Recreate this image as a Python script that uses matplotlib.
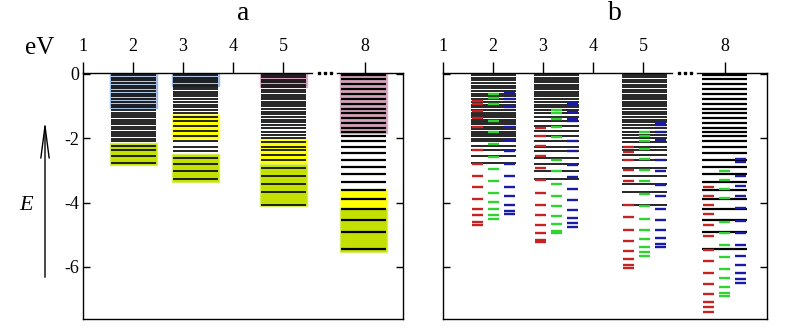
import matplotlib
matplotlib.use("Agg")
import matplotlib.pyplot as plt
from matplotlib.patches import Rectangle, FancyArrowPatch
from matplotlib.transforms import IdentityTransform

plt.rcParams['font.family'] = ['Liberation Serif', 'DejaVu Serif']
plt.rcParams['axes.unicode_minus'] = False

# cluster sizes shown as columns
sizes = [2, 3, 5, 8]
tick_labels = ['1', '2', '3', '4', '5', '8']

# energy levels (eV) of each cluster, panel a and black lines of panel b
levels_2 = [-0.03, -0.11, -0.20, -0.28, -0.36, -0.44, -0.54, -0.62, -0.70, -0.79,
            -0.88, -0.96, -1.04, -1.12, -1.20, -1.27, -1.34, -1.43, -1.50, -1.57,
            -1.65, -1.72, -1.79, -1.86, -1.93, -2.01, -2.09, -2.24, -2.38, -2.55, -2.76]
levels_3 = [-0.03, -0.11, -0.20, -0.26, -0.33, -0.40, -0.47, -0.55, -0.62, -0.70,
            -0.79, -0.87, -0.95, -1.04, -1.12, -1.20, -1.33, -1.46, -1.61, -1.76,
            -1.92, -2.10, -2.26, -2.41, -2.62, -2.80, -3.01, -3.27]
levels_5 = [-0.03, -0.10, -0.19, -0.26, -0.33, -0.41, -0.50, -0.57, -0.64, -0.71,
            -0.79, -0.86, -0.93, -1.00, -1.09, -1.17, -1.25, -1.34, -1.42, -1.50,
            -1.59, -1.69, -1.79, -1.89, -2.00, -2.13, -2.26, -2.38, -2.52, -2.67,
            -2.91, -3.16, -3.42, -3.68, -4.07]
levels_8 = [-0.03, -0.16, -0.31, -0.47, -0.61, -0.77, -0.92, -1.08, -1.22, -1.38,
            -1.53, -1.68, -1.80, -1.93, -2.09, -2.27, -2.45, -2.66, -2.88, -3.11,
            -3.35, -3.60, -3.88, -4.20, -4.53, -4.93, -5.43]

# highlighted bands in panel a: (kind, top, bottom)
bands_2 = [('blue', 0.02, -1.05), ('green', -2.15, -2.84)]
bands_3 = [('blue', 0.02, -0.37), ('yellow', -1.25, -2.02), ('green', -2.49, -3.36)]
bands_5 = [('pink', 0.02, -0.39), ('yellow', -2.03, -2.80), ('green', -2.80, -4.10)]
bands_8 = [('pink', 0.02, -1.84), ('yellow', -3.58, -4.17), ('green', -4.17, -5.55)]

# panel b: projected levels (eV)
red_2 = [-0.83, -0.92, -1.14, -1.38, -1.64, -2.38, -2.79, -3.16, -3.52, -3.88, -4.19, -4.40, -4.59, -4.71]
green_2 = [-0.63, -0.74, -0.93, -1.46, -1.82, -2.19, -2.57, -2.97, -3.34, -3.69, -3.97, -4.20, -4.40, -4.52]
blue_2 = [-0.58, -0.77, -1.02, -1.64, -2.05, -2.41, -2.79, -3.17, -3.50, -3.81, -4.06, -4.25, -4.34]

red_3 = [-1.68, -1.92, -2.24, -2.55, -2.91, -3.31, -3.69, -4.06, -4.40, -4.71, -4.96, -5.15, -5.24]
green_3 = [-1.12, -1.20, -1.39, -1.64, -1.95, -2.67, -3.03, -3.42, -3.78, -4.12, -4.43, -4.68, -4.88, -4.96]
blue_3 = [-0.89, -0.96, -1.19, -1.41, -1.47, -2.08, -2.41, -2.83, -3.19, -3.57, -3.91, -4.22, -4.47, -4.65, -4.75]

red_5 = [-2.26, -2.44, -2.69, -3.00, -3.34, -4.09, -4.46, -4.84, -5.18, -5.49, -5.74, -5.93, -6.02]
green_5 = [-1.79, -1.92, -2.07, -2.32, -2.63, -2.98, -3.34, -3.73, -4.12, -4.50, -4.84, -5.12, -5.37, -5.55, -5.67]
blue_5 = [-1.51, -1.58, -1.79, -2.05, -2.69, -3.03, -3.45, -3.81, -4.19, -4.53, -4.84, -5.09, -5.28, -5.37]

red_8 = [-3.50, -3.81, -4.06, -4.34, -4.69, -5.05, -5.47, -5.83, -6.20, -6.54, -6.85, -7.10, -7.26, -7.39]
green_8 = [-3.03, -3.31, -3.57, -3.87, -4.60, -4.96, -5.33, -5.70, -6.05, -6.36, -6.61, -6.80, -6.90]
blue_8 = [-2.65, -2.75, -3.16, -3.47, -3.81, -4.18, -4.56, -4.96, -5.33, -5.67, -5.95, -6.20, -6.39, -6.51]

levels = [levels_2, levels_3, levels_5, levels_8]
bands = [bands_2, bands_3, bands_5, bands_8]
reds = [red_2, red_3, red_5, red_8]
greens = [green_2, green_3, green_5, green_8]
blues = [blue_2, blue_3, blue_5, blue_8]

# layout / style
band_colors = {'blue': '#b0c6e6', 'yellow': '#ffff00', 'green': '#c4e000', 'pink': '#d6a3bc'}
band_edges = {'blue': '#9bbbe2', 'yellow': '#ffff70', 'green': '#d4ea60', 'pink': '#d9afc4'}
tick_pos = [1, 2, 3, 4, 5, 6.64]
centers_a = [2.0, 3.25, 5.0, 6.61]
centers_b = [2.0, 3.27, 5.02, 6.63]
line_w = [1.2, 1.2, 1.2, 1.6]
half = 0.45
ymin, ymax = -7.62, 0.03

fig = plt.figure(figsize=(7.94, 3.32), dpi=100)
ax_a = fig.add_axes([83 / 794, 13 / 332, 320 / 794, 246 / 332])
ax_b = fig.add_axes([443 / 794, 13 / 332, 324 / 794, 246 / 332])


def style_axes(ax, xmax, show_labels):
    ax.set_xlim(1, xmax)
    ax.set_ylim(ymin, ymax)
    ax.xaxis.set_ticks_position('top')
    ax.set_xticks(tick_pos)
    ax.set_xticklabels(tick_labels)
    ax.tick_params(axis='x', direction='out', length=8, width=1, pad=5, labelsize=13)
    ax.set_yticks([0, -2, -4, -6])
    ax.tick_params(axis='y', direction='in', length=5, width=1, left=True, right=True,
                   labelleft=show_labels, labelsize=13, pad=3)
    for s in ['left', 'right', 'bottom']:
        ax.spines[s].set_linewidth(1)
    # top spine with a break between 5 and 8
    ax.spines['top'].set_visible(False)
    tr = ax.get_xaxis_transform()
    ax.plot([1, 5.58], [1, 1], color='k', lw=1, transform=tr, clip_on=False, zorder=5)
    ax.plot([6.08, xmax], [1, 1], color='k', lw=1, transform=tr, clip_on=False, zorder=5)
    ax.plot([5.72, 5.84, 5.96], [1, 1, 1], 's', color='k', ms=2, transform=tr,
            clip_on=False, zorder=5)


# panel a
for c, lev, bnd, w in zip(centers_a, levels, bands, line_w):
    for kind, top, bot in bnd:
        ax_a.add_patch(Rectangle((c - 0.47, bot), 0.94, top - bot,
                                 facecolor=band_colors[kind], edgecolor=band_edges[kind],
                                 lw=1, zorder=2))
    ax_a.hlines(lev, c - half, c + half, color='k', lw=w, zorder=3)
style_axes(ax_a, 7.4, True)

# panel b
for c, lev, r, g, b, w in zip(centers_b, levels, reds, greens, blues, line_w):
    ax_b.hlines(lev, c - half, c + half, color='k', lw=w, zorder=3)
    ax_b.hlines(r, c - 0.43, c - 0.21, color='#c82323', lw=1.7, zorder=4)
    ax_b.hlines(g, c - 0.11, c + 0.11, color='#2fd42f', lw=1.7, zorder=4)
    ax_b.hlines(b, c + 0.21, c + 0.43, color='#1a1aa8', lw=1.7, zorder=4)
style_axes(ax_b, 7.48, False)

# labels
fig.text(243 / 794, 1 - 14 / 332, 'a', ha='center', va='center', fontsize=20)
fig.text(615 / 794, 1 - 14 / 332, 'b', ha='center', va='center', fontsize=20)
fig.text(40 / 794, 1 - 48 / 332, 'eV', ha='center', va='center', fontsize=18)
fig.text(26 / 794, 1 - 205 / 332, 'E', ha='center', va='center', fontsize=16,
         style='italic')
arrow = FancyArrowPatch((45, 332 - 280), (45, 332 - 118), transform=IdentityTransform(),
                        arrowstyle='->,head_length=2.3,head_width=0.3', mutation_scale=10,
                        lw=1, color='k')
fig.add_artist(arrow)

fig.savefig('out.png', dpi=100)
